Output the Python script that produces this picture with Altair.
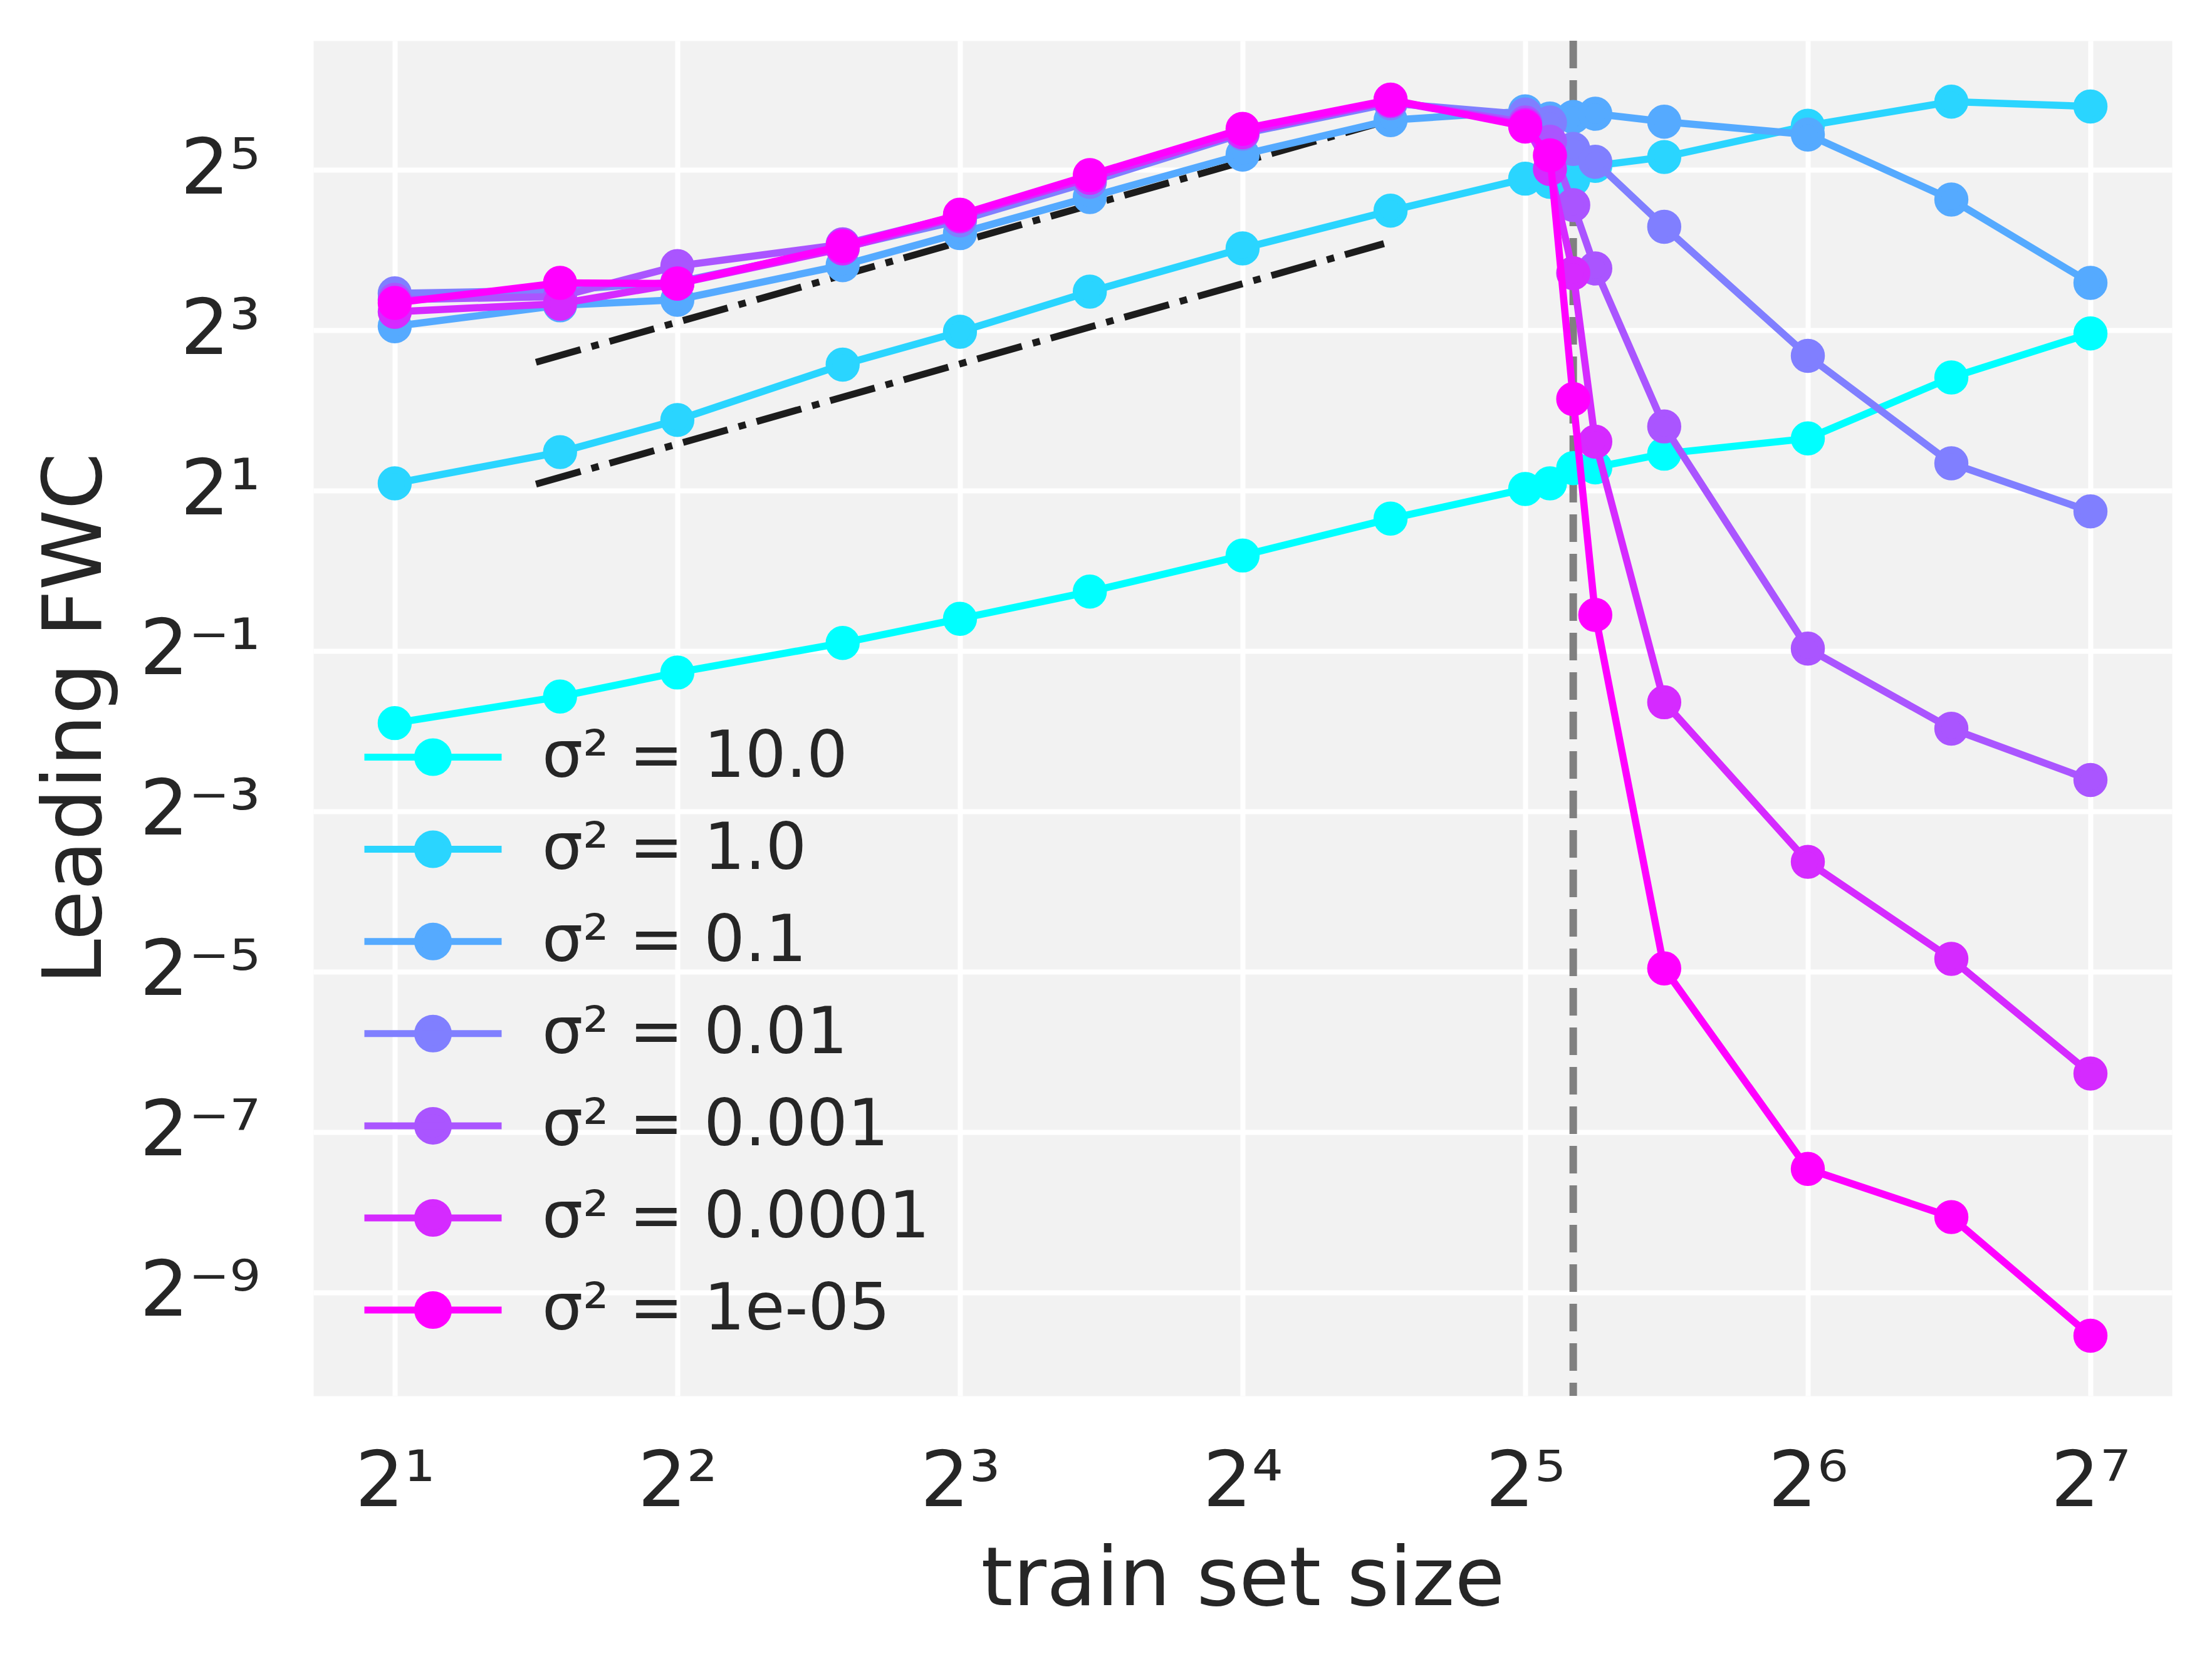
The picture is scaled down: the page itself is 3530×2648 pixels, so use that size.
import altair as alt
import pandas as pd

# ---------------- data ----------------
train_size = [2, 3, 4, 6, 8, 11, 16, 23, 32, 34, 36, 38, 45, 64, 91, 128]

series_labels = ["σ² = 10.0", "σ² = 1.0", "σ² = 0.1", "σ² = 0.01",
                 "σ² = 0.001", "σ² = 0.0001", "σ² = 1e-05"]
series_colors = ["#00ffff", "#2ad5ff", "#55aaff", "#807fff",
                 "#aa55ff", "#d52aff", "#ff00ff"]

fwc_s10 = [0.268, 0.337, 0.415, 0.536, 0.660, 0.835, 1.141, 1.569,
           2.028, 2.129, 2.428, 2.445, 2.751, 3.138, 5.315, 7.78]
fwc_s1 = [2.129, 2.789, 3.681, 5.938, 7.89, 11.16, 16.22, 22.47,
          29.65, 28.84, 29.45, 33.13, 35.75, 46.85, 57.68, 55.33]
fwc_s01 = [8.28, 9.92, 10.41, 14.03, 18.51, 25.28, 36.51, 49.18,
           53.08, 49.87, 50.56, 51.98, 48.50, 43.41, 24.76, 12.04]
fwc_s001 = [11.00, 11.31, 12.13, 16.34, 20.68, 28.84, 43.72, 56.89,
            51.63, 48.17, 38.32, 34.30, 19.56, 6.408, 2.531, 1.670]
fwc_s0001 = [10.41, 10.70, 13.93, 16.80, 21.56, 29.86, 44.63, 58.08,
             48.17, 40.79, 23.59, 13.64, 3.482, 0.5105, 0.2553, 0.1638]
fwc_s00001 = [9.38, 10.06, 11.96, 16.22, 21.41, 29.86, 44.32, 58.08,
              47.18, 32.22, 13.09, 3.053, 0.3209, 0.08077, 0.03492, 0.012958]
fwc_s1e5 = [10.13, 12.04, 11.98, 16.56, 21.71, 30.59, 45.57, 58.69,
            46.53, 36.25, 4.408, 0.6830, 0.03213, 0.005680, 0.003747, 0.0013434]

series_values = [fwc_s10, fwc_s1, fwc_s01, fwc_s001, fwc_s0001, fwc_s00001, fwc_s1e5]

# dash-dot guide lines (slope 1 in log-log)
guide_x = [2.828, 22.63]
guide_upper = [6.063, 48.50]
guide_lower = [2.114, 16.91]

# vertical dashed marker
threshold_x = [36]

x_ticks = [2, 4, 8, 16, 32, 64, 128]
y_ticks = [0.001953125, 0.0078125, 0.03125, 0.125, 0.5, 2, 8, 32]

# ---------------- helpers ----------------
SUP = {"0": "⁰", "1": "¹", "2": "²", "3": "³", "4": "⁴", "5": "⁵",
       "6": "⁶", "7": "⁷", "8": "⁸", "9": "⁹", "-": "⁻"}


def pow2_label_expr(exponents):
    parts = []
    for e in exponents:
        lab = "2" + "".join(SUP[c] for c in str(e))
        parts.append(f"round(log(datum.value)/LN2) == {e} ? '{lab}'")
    return " : ".join(parts) + " : ''"


FONT = "DejaVu Sans"
TEXT = "#262626"

x_scale = alt.Scale(type="log", base=2, domain=[1.638, 156.3], nice=False)
y_scale = alt.Scale(type="log", base=2, domain=[0.0007988, 97.68], nice=False)

x_axis = alt.Axis(values=x_ticks, labelExpr=pow2_label_expr([1, 2, 3, 4, 5, 6, 7]),
                  title="train set size", labelPadding=78, titleY=333,
                  titleBaseline="alphabetic", labelFlush=False, labelOverlap=False,
                  labelLimit=1000)
y_axis = alt.Axis(values=y_ticks, labelExpr=pow2_label_expr([-9, -7, -5, -3, -1, 1, 3, 5]),
                  title="Leading FWC", labelPadding=85, titleX=-340,
                  titleBaseline="alphabetic", labelOverlap=False, labelLimit=1000)

legend_path = ("M-2.19,0L2.19,0M0.49,0A0.49,0.49,0,1,1,-0.49,0"
               "A0.49,0.49,0,1,1,0.49,0Z")
legend = alt.Legend(title=None, orient="none", legendX=135.5, legendY=1088,
                    padding=0, symbolType=legend_path, symbolSize=10000,
                    symbolStrokeWidth=11, labelFontSize=103, labelFont=FONT,
                    labelColor=TEXT, labelOffset=118.5, rowPadding=39.1,
                    labelLimit=2000)

fill_scale = alt.Scale(domain=series_labels, range=series_colors)
stroke_scale = alt.Scale(domain=series_labels, range=series_colors)

layers = []

# vertical dashed line
vline_df = pd.DataFrame({"n": threshold_x})
layers.append(
    alt.Chart(vline_df).mark_rule(color="#808080", strokeWidth=12,
                                  strokeDash=[44, 19]).encode(
        x=alt.X("n:Q", scale=x_scale, axis=x_axis)
    )
)

# dash-dot guide lines
guide_df = pd.DataFrame({
    "n": guide_x + guide_x,
    "fwc": guide_upper + guide_lower,
    "g": ["upper"] * len(guide_x) + ["lower"] * len(guide_x),
})
layers.append(
    alt.Chart(guide_df).mark_line(color="#1c1c1c", strokeWidth=11,
                                  strokeDash=[74, 18, 12, 18]).encode(
        x=alt.X("n:Q", scale=x_scale, axis=x_axis),
        y=alt.Y("fwc:Q", scale=y_scale, axis=y_axis),
        detail="g:N",
    )
)

for lab, vals in zip(series_labels, series_values):
    df = pd.DataFrame({"n": train_size, "fwc": vals, "series": lab})
    base = alt.Chart(df).encode(
        x=alt.X("n:Q", scale=x_scale, axis=x_axis),
        y=alt.Y("fwc:Q", scale=y_scale, axis=y_axis),
    )
    layers.append(base.mark_line(strokeWidth=11.5).encode(
        stroke=alt.Stroke("series:N", scale=stroke_scale, legend=legend)))
    layers.append(base.mark_point(filled=True, size=1886, strokeWidth=11,
                                  opacity=1).encode(
        fill=alt.Fill("series:N", scale=fill_scale, legend=legend),
        stroke=alt.Stroke("series:N", scale=stroke_scale, legend=legend)))

chart = alt.layer(*layers).properties(
    width=2966, height=2163,
    padding={"left": 492, "top": 57, "right": 50, "bottom": 400},
    autosize=alt.AutoSizeParams(type="none"),
    background="white",
).configure_view(
    fill="#f2f2f2", stroke="transparent"
).configure_axis(
    grid=True, gridColor="white", gridWidth=8, gridOpacity=1,
    domain=False, ticks=False,
    labelFont=FONT, labelColor=TEXT, labelFontSize=123,
    titleFont=FONT, titleColor=TEXT, titleFontSize=130, titleFontWeight="normal",
)

chart.save("out.html", embed_options={"renderer": "svg", "actions": False})
